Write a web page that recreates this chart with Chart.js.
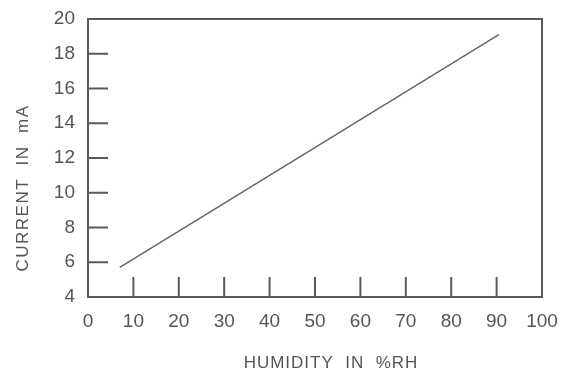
<!DOCTYPE html>
<html lang="en">
<head>
    <meta charset="UTF-8">
    <title>Current vs Humidity</title>
    <style>
        body { margin: 0; background: #fff; }
        #wrap { width: 564px; height: 373px; }
    </style>
</head>
<body>
    <div id="wrap">
        <canvas id="humChart" width="564" height="373"></canvas>
    </div>

    <script src="https://cdn.jsdelivr.net/npm/chart.js"></script>
    <script>
        // data
        const humidity = [7, 90.5];
        const current = [5.7, 19.1];
        const xTickValues = [0, 10, 20, 30, 40, 50, 60, 70, 80, 90, 100];
        const yTickValues = [4, 6, 8, 10, 12, 14, 16, 18, 20];
        const xTitle = 'HUMIDITY  IN  %RH';
        const yTitle = 'CURRENT  IN  mA';

        const axisGray = '#5a5a5a';
        const textGray = '#555';

        // frame, inner tick marks and axis titles drawn around the chart area
        const frameTicks = {
            id: 'frameTicks',
            afterDatasetsDraw(chart) {
                const { ctx, chartArea: a, scales } = chart;
                ctx.save();
                ctx.strokeStyle = axisGray;
                ctx.lineWidth = 2;
                ctx.strokeRect(a.left, a.top, a.right - a.left, a.bottom - a.top);
                ctx.beginPath();
                xTickValues.slice(1, -1).forEach(v => {
                    const px = scales.x.getPixelForValue(v);
                    ctx.moveTo(px, a.bottom);
                    ctx.lineTo(px, a.bottom - 20);
                });
                yTickValues.slice(1, -1).forEach(v => {
                    const py = scales.y.getPixelForValue(v);
                    ctx.moveTo(a.left, py);
                    ctx.lineTo(a.left + 20, py);
                });
                ctx.stroke();

                // titles sit a bit off-centre in the original
                ctx.fillStyle = textGray;
                ctx.font = '17px "Liberation Sans"';
                ctx.textAlign = 'center';
                ctx.textBaseline = 'middle';
                ctx.letterSpacing = '1px';
                ctx.fillText(xTitle, (a.left + a.right) / 2 + 16, a.bottom + 66);
                ctx.translate(23, (a.top + a.bottom) / 2 + 30);
                ctx.rotate(-Math.PI / 2);
                ctx.letterSpacing = '1.5px';
                ctx.fillText(yTitle, 0, 0);
                ctx.restore();
            }
        };

        const ctx = document.getElementById('humChart').getContext('2d');
        new Chart(ctx, {
            type: 'scatter',
            data: {
                datasets: [{
                    data: humidity.map((h, i) => ({ x: h, y: current[i] })),
                    showLine: true,
                    borderColor: '#666',
                    borderWidth: 1.5,
                    pointRadius: 0
                }]
            },
            options: {
                responsive: false,
                animation: false,
                layout: { padding: { top: 19, right: 22, left: 0, bottom: 0 } },
                plugins: { legend: { display: false }, tooltip: { enabled: false } },
                scales: {
                    x: {
                        type: 'linear',
                        min: 0, max: 100,
                        afterBuildTicks: s => { s.ticks = xTickValues.map(v => ({ value: v })); },
                        afterFit: s => { s.height = 76; },
                        grid: { display: false },
                        border: { display: false },
                        ticks: { color: textGray, font: { family: 'Liberation Sans', size: 19 }, padding: 5, maxRotation: 0 }
                    },
                    y: {
                        min: 4, max: 20,
                        afterBuildTicks: s => { s.ticks = yTickValues.map(v => ({ value: v })); },
                        afterFit: s => { s.width = 88; },
                        grid: { display: false },
                        border: { display: false },
                        ticks: { color: textGray, font: { family: 'Liberation Sans', size: 19 }, padding: 5 }
                    }
                }
            },
            plugins: [frameTicks]
        });
    </script>
</body>
</html>
